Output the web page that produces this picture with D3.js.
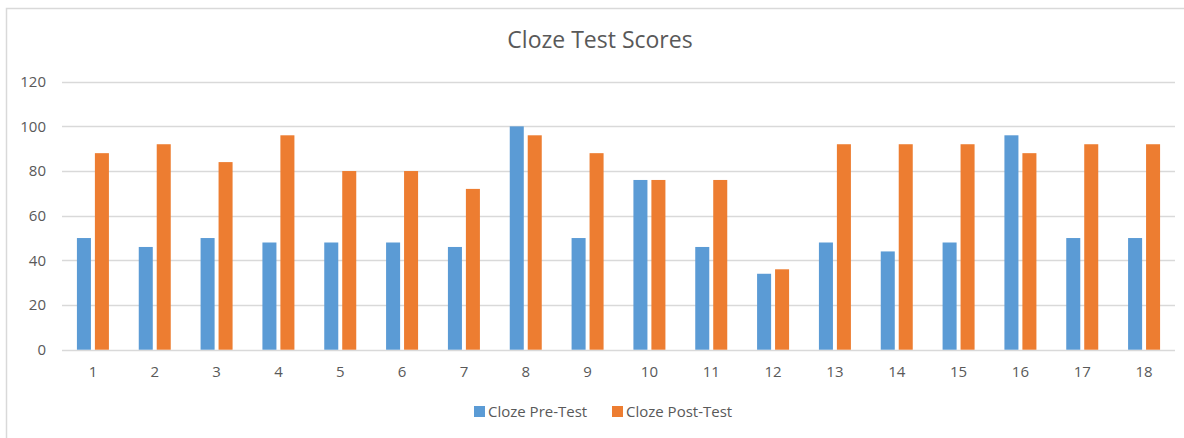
<!DOCTYPE html>
<html>
<head>
<meta charset="utf-8">
<script src="https://cdn.jsdelivr.net/npm/d3@7"></script>
<style>
  body { margin: 0; background: #fff; }
  text { font-family: "Open Sans", "Noto Sans", sans-serif; fill: #595959; }
</style>
</head>
<body>
<script>
var w = 1184,
    h = 438;

var categories = ["1","2","3","4","5","6","7","8","9","10","11","12","13","14","15","16","17","18"];
var series = ["Cloze Pre-Test", "Cloze Post-Test"];
var colors = ["#5b9bd5", "#ed7d31"];
var preTest  = [50,46,50,48,48,48,46,100,50,76,46,34,48,44,48,96,50,50];
var postTest = [88,92,84,96,80,80,72,96,88,76,76,36,92,92,92,88,92,92];
var yTicks = [0,20,40,60,80,100,120];

var rows = categories.map(function(c, i) {
  return { cat: c, values: [preTest[i], postTest[i]] };
});

var svg = d3.select("body").append("svg")
    .attr("width", w)
    .attr("height", h);

// chart border
svg.append("rect")
    .attr("x", 6.5).attr("y", 8.5)
    .attr("width", w + 10).attr("height", h + 10)
    .attr("fill", "none")
    .attr("stroke", "#d9d9d9")
    .attr("stroke-width", 1.5);

var x0 = d3.scaleBand().domain(categories).range([62, 1175]);
var groupW = 32;
var x1 = d3.scaleBand().domain(series).range([0, groupW]).paddingInner(0.22);
var y = d3.scaleLinear().domain([0, 120]).range([349.7, 81.7]);

// gridlines
svg.append("g").selectAll("line")
    .data(yTicks)
    .enter().append("line")
    .attr("x1", 62).attr("x2", 1175)
    .attr("y1", function(d) { return Math.round(y(d)) + 0.5; })
    .attr("y2", function(d) { return Math.round(y(d)) + 0.5; })
    .attr("stroke", "#d9d9d9")
    .attr("stroke-width", 1.3);

// y axis labels
var yAxis = d3.axisLeft(y).tickValues(yTicks).tickSize(0).tickPadding(0);
var gy = svg.append("g").attr("transform", "translate(46,0)").call(yAxis);
gy.select(".domain").remove();
gy.selectAll("text").style("font-size", "15px").attr("fill", "#595959");

// bars
var groups = svg.append("g").selectAll("g")
    .data(rows)
    .enter().append("g")
    .attr("transform", function(d) {
      return "translate(" + (x0(d.cat) + x0.bandwidth() / 2 - groupW / 2) + ",0)";
    });

groups.selectAll("rect")
    .data(function(d) { return d.values.map(function(v, i) { return { s: series[i], v: v, i: i }; }); })
    .enter().append("rect")
    .attr("x", function(d) { return x1(d.s); })
    .attr("width", x1.bandwidth())
    .attr("y", function(d) { return y(d.v); })
    .attr("height", function(d) { return y(0) - y(d.v); })
    .attr("fill", function(d) { return colors[d.i]; });

// x axis labels
var xAxis = d3.axisBottom(x0).tickSize(0).tickPadding(0);
var gx = svg.append("g").attr("transform", "translate(0,366)").call(xAxis);
gx.select(".domain").remove();
gx.selectAll("text").style("font-size", "15px").attr("fill", "#595959");

// title
svg.append("text")
    .attr("x", 600).attr("y", 48)
    .attr("text-anchor", "middle")
    .style("font-size", "23px")
    .text("Cloze Test Scores");

// legend
var legendX = [474, 612];
var legend = svg.append("g").selectAll("g")
    .data(series)
    .enter().append("g")
    .attr("transform", function(d, i) { return "translate(" + legendX[i] + ",406)"; });
legend.append("rect")
    .attr("width", 11).attr("height", 11)
    .attr("fill", function(d, i) { return colors[i]; });
legend.append("text")
    .attr("x", 14).attr("y", 10.5)
    .style("font-size", "15px")
    .text(function(d) { return d; });
</script>
</body>
</html>
